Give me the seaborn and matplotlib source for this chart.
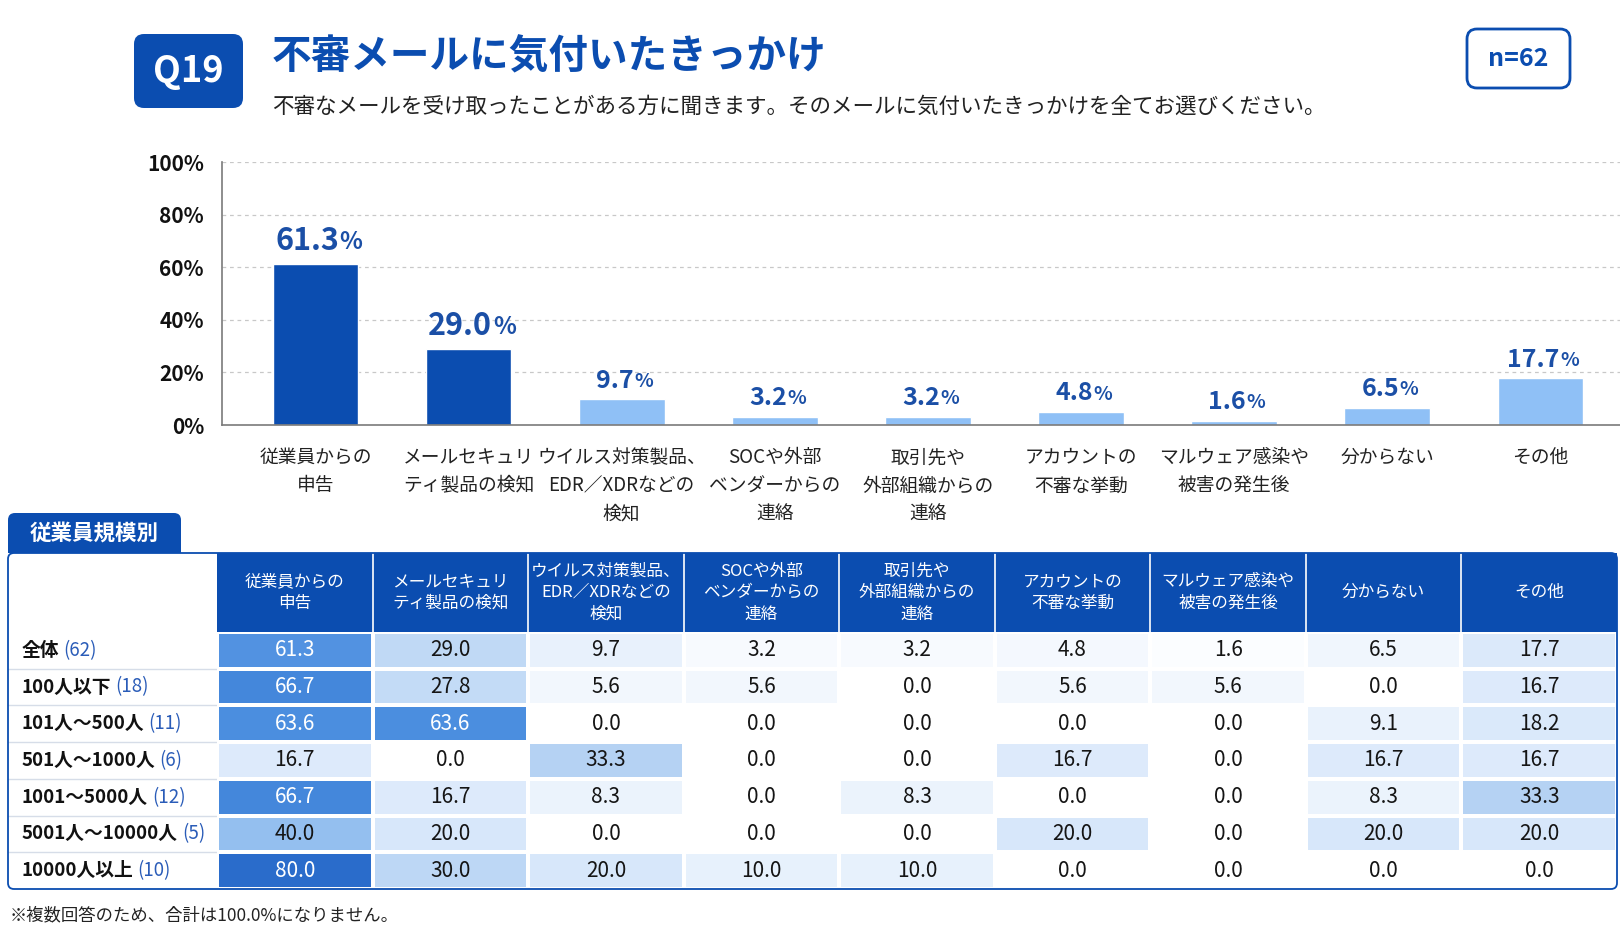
import numpy as np
import pandas as pd
import matplotlib
matplotlib.use('Agg')
import matplotlib.pyplot as plt
import seaborn as sns
from matplotlib.patches import FancyBboxPatch, Rectangle
from matplotlib.transforms import IdentityTransform
from matplotlib.colors import LinearSegmentedColormap

# ---- data ----
categories = ['従業員からの\n申告', 'メールセキュリ\nティ製品の検知', 'ウイルス対策製品、\nEDR／XDRなどの\n検知',
              'SOCや外部\nベンダーからの\n連絡', '取引先や\n外部組織からの\n連絡', 'アカウントの\n不審な挙動',
              'マルウェア感染や\n被害の発生後', '分からない', 'その他']
overall = [61.3, 29.0, 9.7, 3.2, 3.2, 4.8, 1.6, 6.5, 17.7]
highlight = [True, True, False, False, False, False, False, False, False]

row_names = ['全体', '100人以下', '101人～500人', '501人～1000人', '1001～5000人', '5001人～10000人', '10000人以上']
row_n = [62, 18, 11, 6, 12, 5, 10]
table_values = [
    [61.3, 29.0, 9.7, 3.2, 3.2, 4.8, 1.6, 6.5, 17.7],
    [66.7, 27.8, 5.6, 5.6, 0.0, 5.6, 5.6, 0.0, 16.7],
    [63.6, 63.6, 0.0, 0.0, 0.0, 0.0, 0.0, 9.1, 18.2],
    [16.7, 0.0, 33.3, 0.0, 0.0, 16.7, 0.0, 16.7, 16.7],
    [66.7, 16.7, 8.3, 0.0, 8.3, 0.0, 0.0, 8.3, 33.3],
    [40.0, 20.0, 0.0, 0.0, 0.0, 20.0, 0.0, 20.0, 20.0],
    [80.0, 30.0, 20.0, 10.0, 10.0, 0.0, 0.0, 0.0, 0.0],
]
y_ticks = [0, 20, 40, 60, 80, 100]

title = '不審メールに気付いたきっかけ'
subtitle = '不審なメールを受け取ったことがある方に聞きます。そのメールに気付いたきっかけを全てお選びください。'
footnote = '※複数回答のため、合計は100.0%になりません。'

# ---- style ----
sns.set_style('white')
plt.rcParams['font.family'] = ['Noto Sans CJK JP', 'DejaVu Sans']

W, H = 1620, 935
DARK = '#0b4db0'
LIGHT = '#8fc0f6'
LABEL_BLUE = '#1b4fa6'

fig = plt.figure(figsize=(W / 100, H / 100), dpi=100)
fig.patch.set_facecolor('white')


def box(x0, y0, x1, y1):
    # pixel box (top-left origin) -> figure fraction rect
    return [x0 / W, 1 - y1 / H, (x1 - x0) / W, (y1 - y0) / H]


def pix_patch(x0, y0, x1, y1, r, **kw):
    p = FancyBboxPatch((x0, H - y1), x1 - x0, y1 - y0,
                       boxstyle=f'round,pad=0,rounding_size={r}',
                       transform=IdentityTransform(), **kw)
    fig.add_artist(p)
    return p


# ---- header ----
pix_patch(134, 34, 243, 108, 10, facecolor=DARK, edgecolor='none')
fig.text(188.5 / W, 1 - 72 / H, 'Q19', color='white', fontsize=26, fontweight='bold',
         ha='center', va='center')
fig.text(272 / W, 1 - 57 / H, title, color=DARK, fontsize=28.5, fontweight='bold', va='center')
fig.text(272 / W, 1 - 107 / H, subtitle, color='#222222', fontsize=15.5, va='center')
pix_patch(1467, 29, 1570, 88, 10, facecolor='white', edgecolor=DARK, linewidth=2)
fig.text(1518.5 / W, 1 - 58.5 / H, 'n=62', color=DARK, fontsize=18, fontweight='bold',
         ha='center', va='center')

# ---- bar chart ----
ax = fig.add_axes(box(222, 162, 1620, 425))
df_bar = pd.DataFrame({'cat': categories, 'val': overall})
bar_colors = [DARK if h else LIGHT for h in highlight]
sns.barplot(data=df_bar, x='cat', y='val', hue='cat', palette=bar_colors, width=0.56,
            legend=False, ax=ax, saturation=1)
ax.set_xlim(-0.61, 8.52)
ax.set_ylim(0, 100)
ax.set_yticks(y_ticks)
ax.set_yticklabels([f'{v}%' for v in y_ticks], fontsize=15, fontweight='bold', color='#111111')
ax.set_xlabel('')
ax.set_ylabel('')
ax.set_facecolor('none')
for v in y_ticks[1:]:
    ax.axhline(v, color='#c8c8c8', linestyle=(0, (3, 3)), linewidth=0.9, zorder=0)
for s in ['top', 'right']:
    ax.spines[s].set_visible(False)
ax.spines['left'].set_color('#7a7a7a')
ax.spines['bottom'].set_color('#7a7a7a')
ax.spines['left'].set_linewidth(1.2)
ax.spines['bottom'].set_linewidth(1.2)
ax.tick_params(axis='y', length=4, color='#7a7a7a', pad=9)
ax.tick_params(axis='x', length=0, pad=16)
ax.set_xticks(range(len(categories)))
ax.set_xticklabels(categories, fontsize=13.5, color='#222222', linespacing=1.45, va='top')

for i, (v, h) in enumerate(zip(overall, highlight)):
    fs = 22 if h else 18
    num = ax.annotate(f'{v:.1f}', xy=(i, v), xytext=(-6 if h else -5, 5), textcoords='offset points',
                      ha='center', va='bottom', fontsize=fs, fontweight='bold', color=LABEL_BLUE)
    ax.annotate('%', xy=(1, 0.08), xycoords=num, xytext=(0.5, 0), textcoords='offset points',
                ha='left', va='bottom', fontsize=fs * 0.78, fontweight='bold', color=LABEL_BLUE)

# ---- section tab ----
pix_patch(8, 513, 181, 553, 7, facecolor=DARK, edgecolor='none')
fig.add_artist(Rectangle((8, H - 553), 173, 20, transform=IdentityTransform(),
                         facecolor=DARK, edgecolor='none'))
fig.text(94.5 / W, 1 - 533 / H, '従業員規模別', color='white', fontsize=15.5, fontweight='bold',
         ha='center', va='center')

# ---- table header ----
hx = fig.add_axes(box(217, 553, 1617, 632))
hx.set_facecolor(DARK)
hx.set_xlim(0, 9)
hx.set_ylim(0, 1)
for k in range(1, 9):
    hx.axvline(k, color='white', linewidth=1.2)
for k, c in enumerate(categories):
    hx.text(k + 0.5, 0.5, c, color='white', fontsize=12, ha='center', va='center',
            linespacing=1.35)
hx.set_xticks([])
hx.set_yticks([])
for s in hx.spines.values():
    s.set_visible(False)

# ---- row labels ----
lx = fig.add_axes(box(8, 632, 217, 889))
lx.set_xlim(0, 1)
lx.set_ylim(7, 0)
lx.set_facecolor('none')
for k in range(1, 7):
    lx.axhline(k, color='#d6dde8', linewidth=1)
for k, (nm, n) in enumerate(zip(row_names, row_n)):
    t = lx.text(0.065, k + 0.5, nm, fontsize=13.5, fontweight='bold', color='#111111',
                ha='left', va='center')
    lx.annotate(f'({n})', xy=(1, 0.5), xycoords=t, xytext=(3, 0), textcoords='offset points',
                ha='left', va='center', fontsize=13.5, color='#2a5cb8')
lx.set_xticks([])
lx.set_yticks([])
for s in lx.spines.values():
    s.set_visible(False)

# ---- heatmap body ----
cmap = LinearSegmentedColormap.from_list(
    'blues_tbl', [(0.0, '#ffffff'), (0.12, '#e8f1fc'), (0.25, '#d7e7fa'),
                  (0.42, '#b4d1f3'), (0.5, '#94bfef'), (0.8, '#4a8ddf'), (1.0, '#2a6ccb')])
df_tbl = pd.DataFrame(table_values, index=row_names)
bx = fig.add_axes(box(217, 632, 1617, 889))
sns.heatmap(df_tbl, cmap=cmap, vmin=0, vmax=80, annot=True, fmt='.1f', cbar=False,
            linewidths=1.5, linecolor='white', xticklabels=False, yticklabels=False,
            annot_kws={'fontsize': 15}, ax=bx)
for t, v in zip(bx.texts, np.array(table_values).ravel()):
    t.set_color('white' if v >= 60 else '#151515')
bx.set_xlabel('')
bx.set_ylabel('')

# ---- table border ----
pix_patch(8, 553, 1617, 889, 6, facecolor='none', edgecolor=DARK, linewidth=1.3)

fig.text(10 / W, 1 - 915 / H, footnote, fontsize=12.5, color='#222222', va='center')

fig.savefig('out.png', dpi=100, facecolor='white')
